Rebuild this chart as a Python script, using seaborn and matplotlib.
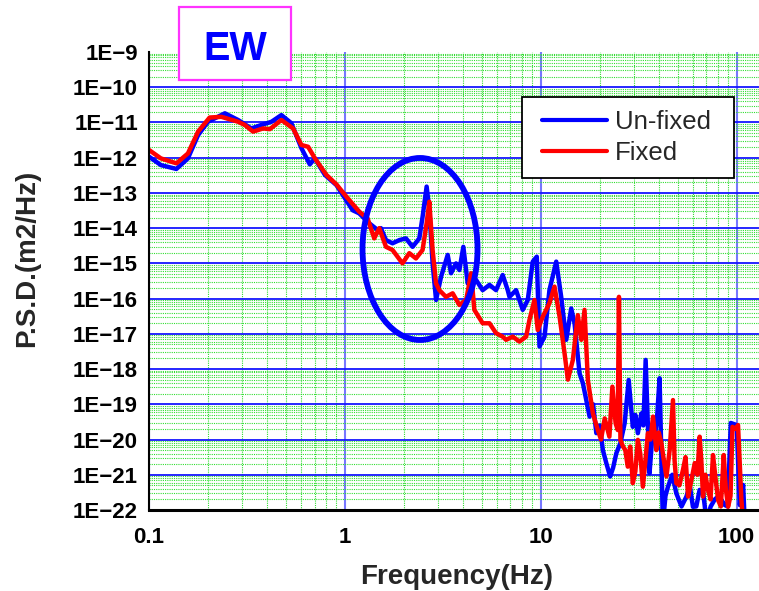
import numpy as np
import pandas as pd
import seaborn as sns
import matplotlib
matplotlib.use("Agg")
import matplotlib.pyplot as plt
from matplotlib.ticker import LogLocator, NullFormatter
from matplotlib.patches import Ellipse, Rectangle
from matplotlib.lines import Line2D
from matplotlib.legend_handler import HandlerLine2D

# ---------------- data ----------------
unfixed_freq = [0.100, 0.115, 0.138, 0.158, 0.178, 0.200, 0.244, 0.285, 0.333, 0.375, 0.422, 0.474, 0.533, 0.600, 0.662, 0.703, 0.791, 0.906,
                1.00, 1.052, 1.094, 1.183, 1.331, 1.468, 1.527, 1.621, 1.751, 1.895, 2.050, 2.216, 2.398, 2.492, 2.614, 2.698, 2.804, 2.920, 3.097, 3.348,
                3.483, 3.693, 3.841, 4.024, 4.236, 4.674, 5.05, 5.47, 5.91, 6.39, 6.78,
                6.92, 7.48, 8.09, 8.58, 9.10, 9.54, 9.85, 10.45, 11.07, 11.99, 12.71, 13.49, 14.30, 14.87, 15.77,
                16.40, 17.75, 18.5, 19.21, 20.0, 20.75, 21.6, 22.6, 23.4, 24.3, 25.5, 26.8, 28.1, 29.5, 30.4, 31.3, 32.6, 33.4, 34.3, 35.9,
                37.0, 38.1, 39.2, 40.4, 41.2, 42.0, 43.3, 44.6, 46.9, 49.2, 52.3, 55.4, 57.6, 59.8, 62.2, 64.7, 67.4, 70.1, 73.7, 77.3,
                81.0, 86.9, 90.0, 93.3, 100.0, 103.7, 107.9, 110.0]
unfixed_log_psd = [-11.97, -12.21, -12.32, -12.02, -11.36, -10.98, -10.74, -10.93, -11.17, -11.07, -10.98, -10.79, -11.02, -11.73, -12.19, -12.02, -12.49, -12.78,
                   -13.15, -13.34, -13.49, -13.58, -13.86, -14.05, -14.00, -14.34, -14.43, -14.34, -14.29, -14.53, -14.29, -13.68, -12.82, -13.48, -15.00, -16.04, -15.38, -14.76,
                   -15.28, -15.00, -15.19, -14.53, -15.57, -15.47, -15.76, -15.61, -15.76, -15.33, -15.76,
                   -15.95, -15.76, -16.32, -16.04, -14.95, -14.81, -17.36, -17.08, -15.76, -14.95, -15.95, -17.17, -16.28, -16.70, -18.12,
                   -18.40, -19.35, -19.0, -19.82, -19.6, -20.30, -20.67, -21.05, -20.8, -20.39, -20.1, -19.54, -18.31, -19.64, -19.3, -19.82, -19.26, -19.6, -17.74, -20.96,
                   -20.0, -20.01, -19.4, -18.26, -20.3, -22.40, -21.6, -21.34, -21.0, -21.53, -21.9, -21.62, -21.3, -21.91, -21.9, -21.43, -21.5, -22.30, -21.9, -21.70,
                   -21.6, -21.86, -21.9, -19.53, -19.59, -21.86, -21.29, -22.40]

fixed_freq = [0.100, 0.115, 0.138, 0.158, 0.178, 0.204, 0.234, 0.285, 0.308, 0.340, 0.382, 0.414, 0.474, 0.544, 0.600, 0.649, 0.703, 0.805, 0.906, 1.019,
              1.052, 1.183, 1.305, 1.412, 1.497, 1.621, 1.751, 1.968, 2.132, 2.306, 2.492, 2.614, 2.698, 2.804, 2.920, 3.034, 3.28, 3.55, 3.841, 4.16,
              4.41, 4.58, 5.05, 5.47, 5.91, 6.39,
              6.65, 7.19, 7.78, 8.42, 8.75, 9.28, 9.65, 10.24, 11.07, 11.75, 12.47, 13.22, 13.75, 14.58, 15.46, 16.10, 16.72, 17.39,
              18.45, 19.55, 20.3, 21.2, 22.4, 23.2, 24.1, 24.7, 25.06, 25.5, 26.3, 27.0, 27.8, 28.6, 29.5, 30.4, 31.3, 32.2, 33.2, 34.2,
              35.2, 36.3, 37.4, 38.9, 40.0, 41.3, 42.5, 43.8, 45.5, 47.3, 48.2, 49.2, 51.0, 53.2, 54.8, 56.5, 58.5, 61.1, 63.0, 64.7,
              66.0, 67.3, 69.2, 71.4, 73.5, 75.7, 78.0, 80.4, 83.0, 85.9, 88.0, 90.4, 93.0, 95.2, 98.5, 101.6, 105.7, 108.0]
fixed_log_psd = [-11.78, -12.02, -12.16, -11.88, -11.26, -10.86, -10.84, -10.98, -11.07, -11.26, -11.17, -11.19, -10.93, -11.17, -11.64, -11.69, -12.02, -12.49, -12.76, -13.11,
                 -13.20, -13.53, -13.72, -14.29, -14.00, -14.53, -14.62, -15.00, -14.71, -14.86, -14.62, -13.86, -13.25, -14.62, -15.57, -15.76, -15.95, -15.85, -16.18, -16.04,
                 -15.28, -16.32, -16.70, -16.70, -16.98, -17.08,
                 -17.17, -17.08, -17.22, -17.08, -16.61, -16.04, -16.89, -16.51, -16.13, -15.66, -16.51, -17.55, -18.30, -17.74, -16.47, -17.17, -16.32, -18.31,
                 -19.26, -19.73, -20.0, -19.40, -19.92, -18.50, -19.54, -19.73, -15.95, -20.01, -20.20, -20.3, -20.77, -20.2, -21.24, -20.9, -20.01, -20.4, -21.34, -20.6,
                 -19.82, -20.0, -19.35, -20.30, -19.8, -20.11, -20.6, -21.05, -20.3, -18.88, -20.6, -21.24, -21.3, -20.86, -20.5, -21.62, -21.2, -20.67, -21.0, -19.92,
                 -20.6, -21.62, -21.0, -21.43, -21.7, -20.44, -21.1, -21.72, -21.9, -20.44, -21.4, -21.91, -21.6, -19.64, -19.7, -19.59, -21.72, -22.40]

series_names = ["Un-fixed", "Fixed"]
series_colors = ["#0000ff", "#ff0000"]
y_exponents = list(range(-9, -23, -1))
x_tick_values = [0.1, 1, 10, 100]
x_tick_labels = ["0.1", "1", "10", "100"]

# ---------------- build table ----------------
df = pd.concat([
    pd.DataFrame({"freq": unfixed_freq, "psd": 10.0 ** np.array(unfixed_log_psd), "series": series_names[0]}),
    pd.DataFrame({"freq": fixed_freq, "psd": 10.0 ** np.array(fixed_log_psd), "series": series_names[1]}),
], ignore_index=True)

sns.set_style("white")
plt.rcParams["font.family"] = ["Liberation Sans", "DejaVu Sans"]

fig = plt.figure(figsize=(7.59, 5.91), dpi=100)
ax = fig.add_axes([0.1963, 0.1371, 0.8037, 0.7749])
ax.set_xscale("log")
ax.set_yscale("log")

sns.lineplot(data=df, x="freq", y="psd", hue="series", hue_order=series_names,
             palette=dict(zip(series_names, series_colors)), estimator=None, sort=False,
             linewidth=3.2, legend=False, ax=ax)

ax.set_xlim(0.1, 130)
ax.set_ylim(1e-22, 1e-9)

# ticks
y_ticks = [10.0 ** e for e in y_exponents]
y_labels = ["1E\u2212%d" % (-e) for e in y_exponents]
ax.set_yticks(y_ticks, y_labels, fontweight="bold", fontsize=16)
ax.set_xticks(x_tick_values, x_tick_labels, fontweight="bold", fontsize=16)
ax.yaxis.set_minor_locator(LogLocator(base=10, subs=np.arange(2, 10), numticks=100))
ax.xaxis.set_minor_locator(LogLocator(base=10, subs=np.arange(2, 10), numticks=100))
ax.yaxis.set_minor_formatter(NullFormatter())
ax.xaxis.set_minor_formatter(NullFormatter())

ax.tick_params(which="major", direction="in", length=7, width=1.2, color="black", labelcolor="black")
ax.tick_params(which="minor", direction="in", length=4, width=1.0, color="black")
ax.tick_params(axis="y", which="major", pad=8)
ax.tick_params(axis="x", which="major", pad=12)

# grid
ax.set_axisbelow(True)
ax.grid(which="minor", color="#33dd33", linestyle=(0, (1, 1)), linewidth=0.8)
ax.grid(which="major", axis="y", color="#1515ff", linewidth=1.3, linestyle="-")
ax.grid(which="major", axis="x", color="#7777ff", linewidth=1.5, linestyle="-")
fig.canvas.draw()
for t in ax.yaxis.get_major_ticks():
    if np.isclose(np.log10(t.get_loc()), -9):
        t.gridline.set_visible(False)

for s in ["top", "right"]:
    ax.spines[s].set_visible(False)
ax.spines["left"].set_color("black")
ax.spines["left"].set_linewidth(1.5)
ax.spines["bottom"].set_color("black")
ax.spines["bottom"].set_linewidth(2.2)

# labels
ax.set_xlabel("Frequency(Hz)", fontsize=20, fontweight="bold")
ax.set_ylabel("P.S.D.(m2/Hz)", fontsize=20, fontweight="bold")
ax.xaxis.set_label_coords(0.505, -0.146)
ax.xaxis.label.set_va("center")
ax.yaxis.set_label_coords(-0.2, 0.55)
ax.yaxis.label.set_va("center")

# legend
handles = [Line2D([], [], color=c, lw=3) for c in series_colors]
leg = ax.legend(handles, series_names, loc="upper left",
                bbox_to_anchor=(0.6115, 0.5, 0.3475, 0.4017), mode="expand",
                borderaxespad=0, fontsize=18.5, handlelength=2.81, handletextpad=0.3,
                labelspacing=0.28, borderpad=0.5, fancybox=False, framealpha=1,
                edgecolor="black", handler_map={Line2D: HandlerLine2D(xpad=0.28)})
leg.get_frame().set_linewidth(1.3)

# highlight ellipse
ax.add_patch(Ellipse((0.4443, 0.5699), 0.1885, 0.3974, transform=ax.transAxes,
                     fill=False, edgecolor="#0000ff", linewidth=4.2, zorder=6))

# EW title box
fig.add_artist(Rectangle((0.2358, 0.8646), 0.1476, 0.1235, transform=fig.transFigure,
                         facecolor="white", edgecolor="#ff33ff", linewidth=1.6))
fig.text(0.3096, 0.8985, "EW", color="#0000ff", fontsize=28.5, fontweight="bold",
         ha="center", va="baseline")

fig.savefig("out.png", dpi=100)
